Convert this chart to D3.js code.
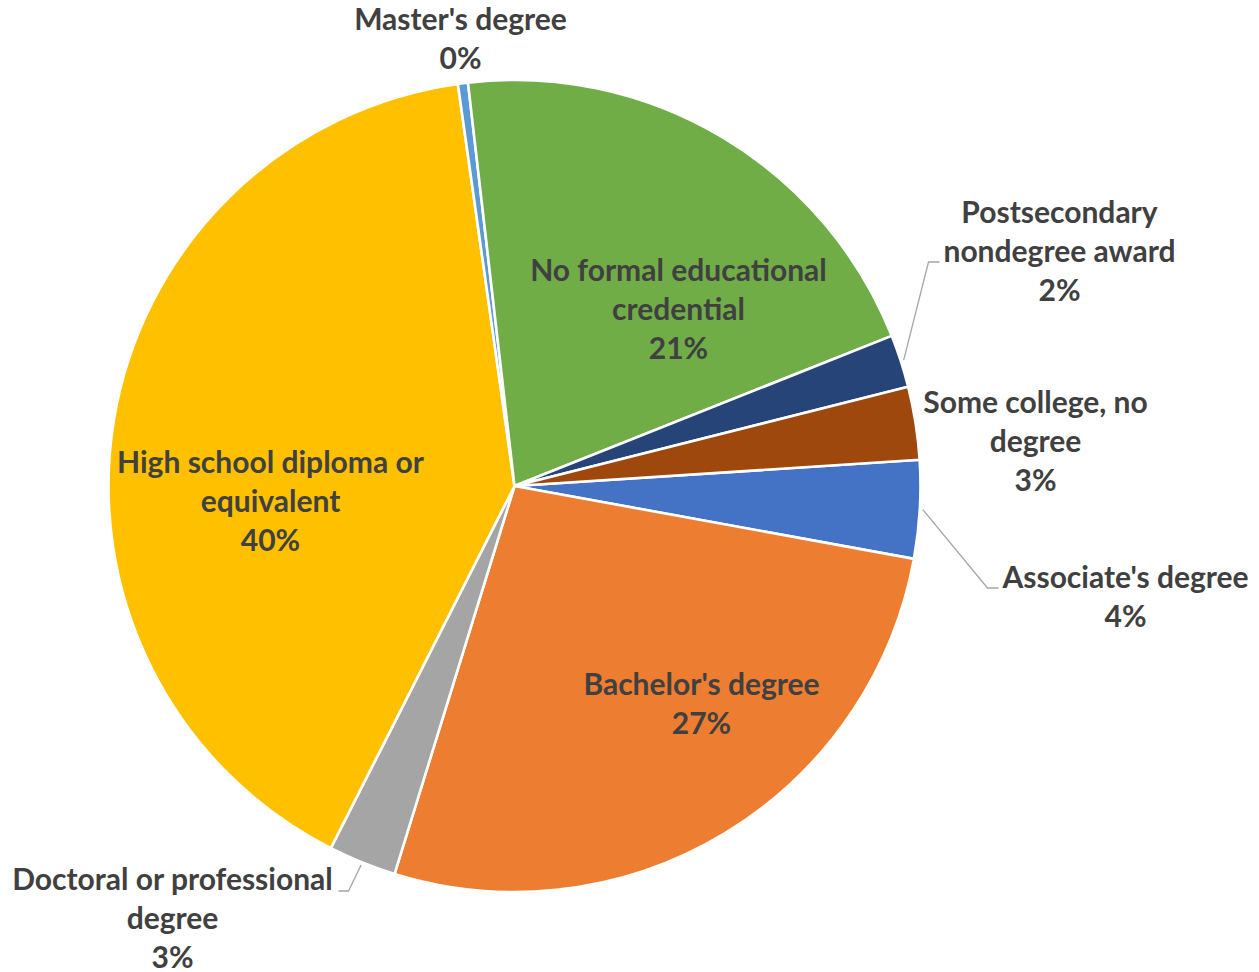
<!DOCTYPE html>
<html>
<head>
<meta charset="utf-8">
<script src="https://cdn.jsdelivr.net/npm/d3@7"></script>
<style>
  html, body { margin: 0; padding: 0; background: #ffffff; }
  svg { display: block; }
  .lbl { font-family: Lato, "Open Sans", sans-serif; font-weight: 700; fill: #404040; }
</style>
</head>
<body>
<svg id="chart" width="1259" height="972"></svg>
<script>
// ---- data ----
const categories = [
  "Associate's degree",
  "Bachelor's degree",
  "Doctoral or professional degree",
  "High school diploma or equivalent",
  "Master's degree",
  "No formal educational credential",
  "Postsecondary nondegree award",
  "Some college, no degree"
];
const values = [3.9, 26.9, 2.7, 40.3, 0.4, 20.8, 2.1, 2.9];
const percentLabels = ["4%", "27%", "3%", "40%", "0%", "21%", "2%", "3%"];
const labelLines = [
  ["Associate's degree"],
  ["Bachelor's degree"],
  ["Doctoral or professional", "degree"],
  ["High school diploma or", "equivalent"],
  ["Master's degree"],
  ["No formal educational", "credential"],
  ["Postsecondary", "nondegree award"],
  ["Some college, no", "degree"]
];
const colors = ["#4472C4", "#ED7D31", "#A5A5A5", "#FFC000", "#5B9BD5", "#70AD47", "#264478", "#9E480E"];

// ---- layout (positions relative to pie centre) ----
const cx = 514.5, cy = 486, radius = 406;
const firstSliceAngle = 86.3; // degrees, clockwise from 12 o'clock
const fontSize = 30, lineH = 38.8;
// label first-baseline position (dx, dy from centre), and optional leader elbow
const labelLayout = [
  { x: 611, y: 102, leader: { ex: 473, ey: 102, hx: 484 } },
  { x: 187, y: 209 },
  { x: -342, y: 404, leader: { ex: -166, ey: 405, hx: -176 } },
  { x: -244, y: -13 },
  { x: -54, y: -456 },
  { x: 164, y: -205 },
  { x: 545, y: -263, leader: { ex: 414, ey: -224, hx: 425 } },
  { x: 521, y: -73 }
];

const svg = d3.select("#chart");
const g = svg.append("g").attr("transform", `translate(${cx},${cy})`);

const data = categories.map((c, i) => ({ name: c, value: values[i], idx: i }));
const start = firstSliceAngle * Math.PI / 180;
const pie = d3.pie().value(d => d.value).sort(null)
  .startAngle(start).endAngle(start + 2 * Math.PI);
const arcs = pie(data);
const arc = d3.arc().innerRadius(0).outerRadius(radius);

g.selectAll("path.slice").data(arcs).join("path")
  .attr("class", "slice")
  .attr("d", arc)
  .attr("fill", d => colors[d.data.idx])
  .attr("stroke", "#ffffff")
  .attr("stroke-width", 2.6)
  .attr("stroke-linejoin", "round");

// leader lines
const outer = d3.arc().innerRadius(radius + 3).outerRadius(radius + 3);
arcs.forEach(a => {
  const L = labelLayout[a.data.idx].leader;
  if (!L) return;
  const p = outer.centroid(a);
  g.append("polyline")
    .attr("points", [[p[0], p[1]], [L.ex, L.ey], [L.hx, L.ey]].map(q => q.join(",")).join(" "))
    .attr("fill", "none")
    .attr("stroke", "#A6A6A6")
    .attr("stroke-width", 1.3);
});

// labels
arcs.forEach(a => {
  const i = a.data.idx;
  const pos = labelLayout[i];
  const lines = labelLines[i].concat([percentLabels[i]]);
  const t = g.append("text")
    .attr("class", "lbl")
    .attr("text-anchor", "middle")
    .attr("font-size", fontSize)
    .attr("x", pos.x).attr("y", pos.y);
  lines.forEach((ln, k) => {
    t.append("tspan").attr("x", pos.x).attr("dy", k === 0 ? 0 : lineH).text(ln);
  });
});
</script>
</body>
</html>
